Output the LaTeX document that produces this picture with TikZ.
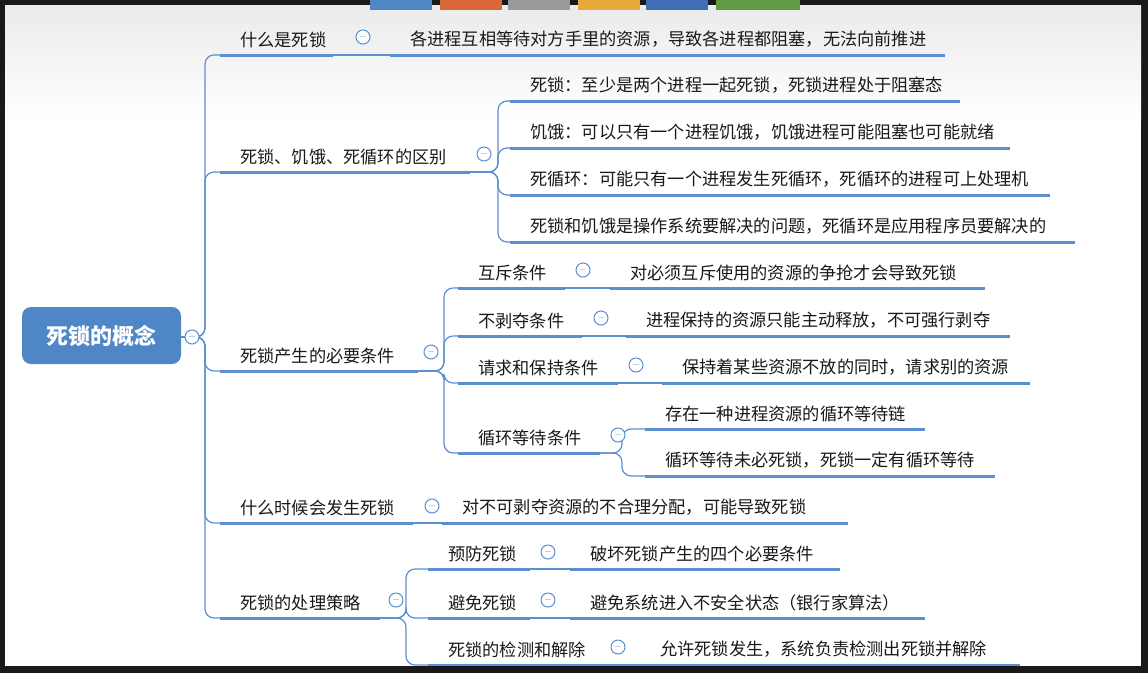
\documentclass[tikz,border=0pt]{standalone}
\usepackage{fontspec}
\newfontfamily\cjk{Noto Sans CJK SC}
\definecolor{bl}{HTML}{5B8FD0}
\definecolor{rootc}{HTML}{4F86C6}
\definecolor{tabA}{HTML}{4F86C6}
\definecolor{tabB}{HTML}{D9673A}
\definecolor{tabC}{HTML}{9A9A9A}
\definecolor{tabD}{HTML}{E9A93A}
\definecolor{tabE}{HTML}{3F6FB5}
\definecolor{tabF}{HTML}{5E9B43}
\tikzset{
 lbl/.style={anchor=south west,inner sep=0pt,font=\cjk\fontsize{17.2}{19}\selectfont,text=black!90},
 ul/.style={draw=bl,line width=3pt},
 con/.style={draw=bl,line width=1.2pt,rounded corners=9pt},
 tog/.style={circle,draw=bl,line width=1pt,minimum size=14pt,inner sep=0pt,fill=white,font=\fontsize{10}{10}\selectfont\bfseries,text=bl},
}
\newcommand\itm[5]{%
 \coordinate (#1-s) at (#2,#4); \coordinate (#1-e) at (#3,#4);
 \draw[ul] (#1-s) -- (#1-e);
 \node[lbl] (#1) at (#2+20,#4-7) {#5};}
\newcommand\tg[3]{\node[tog] (#1) at (#2,#3) {$-$};}
\newcommand\br[3]{\draw[con] (#1) -- ++(#3,0) |- (#2);}
\begin{document}
\begin{tikzpicture}[x=1pt,y=-1pt]
\fill[black!90] (0,0) rectangle (1148,673);
\shade[top color=black!8,bottom color=white] (5,5) rectangle (1141,120);
\fill[white] (5,120) rectangle (1141,666);
\foreach \a/\b/\c in {370/432/tabA,440/502/tabB,508/570/tabC,578/640/tabD,646/708/tabE,716/800/tabF}
 \fill[\c] (\a,0) rectangle (\b,10);
\node[fill=rootc,rounded corners=9pt,minimum width=159pt,minimum height=57pt,text=white,font=\cjk\fontsize{22}{24}\selectfont\bfseries] (root) at (101.5,335.5) {死锁的概念};
\coordinate (root-e) at (181,337);
% level 1
\itm{a}{220}{333}{55}{什么是死锁}
\itm{b}{220}{470}{172}{死锁、饥饿、死循环的区别}
\itm{c}{220}{418}{371}{死锁产生的必要条件}
\itm{d}{220}{413}{523}{什么时候会发生死锁}
\itm{e}{220}{380}{618}{死锁的处理策略}
\foreach \n in {a,b,c,d,e} \draw[con] (root-e) -- ++(24,0) |- (\n-s);
% a
\itm{a1}{390}{945}{55}{各进程互相等待对方手里的资源，导致各进程都阻塞，无法向前推进}
\draw[con] (a-e) -- (a1-s);
% b
\itm{b1}{510}{960}{101}{死锁：至少是两个进程一起死锁，死锁进程处于阻塞态}
\itm{b2}{510}{1010}{148}{饥饿：可以只有一个进程饥饿，饥饿进程可能阻塞也可能就绪}
\itm{b3}{510}{1050}{195}{死循环：可能只有一个进程发生死循环，死循环的进程可上处理机}
\itm{b4}{510}{1075}{242}{死锁和饥饿是操作系统要解决的问题，死循环是应用程序员要解决的}
\foreach \n in {b1,b2,b3,b4} \br{b-e}{\n-s}{28};
% c
\itm{c1}{458}{565}{288}{互斥条件}
\itm{c2}{458}{582}{336}{不剥夺条件}
\itm{c3}{458}{618}{383}{请求和保持条件}
\itm{c4}{458}{600}{453}{循环等待条件}
\foreach \n in {c1,c2,c3,c4} \br{c-e}{\n-s}{26};
\itm{c1a}{610}{985}{288}{对必须互斥使用的资源的争抢才会导致死锁}
\itm{c2a}{626}{1010}{336}{进程保持的资源只能主动释放，不可强行剥夺}
\itm{c3a}{662}{1030}{383}{保持着某些资源不放的同时，请求别的资源}
\draw[con] (c1-e)--(c1a-s); \draw[con] (c2-e)--(c2a-s); \draw[con] (c3-e)--(c3a-s);
\itm{c4a}{645}{925}{429}{存在一种进程资源的循环等待链}
\itm{c4b}{645}{995}{476}{循环等待未必死锁，死锁一定有循环等待}
\foreach \n in {c4a,c4b} \br{c4-e}{\n-s}{22};
% d
\itm{d1}{442}{848}{523}{对不可剥夺资源的不合理分配，可能导致死锁}
\draw[con] (d-e) -- (d1-s);
% e
\itm{e1}{428}{530}{569}{预防死锁}
\itm{e2}{428}{530}{618}{避免死锁}
\itm{e3}{428}{600}{665}{死锁的检测和解除}
\foreach \n in {e1,e2,e3} \br{e-e}{\n-s}{26};
\itm{e1a}{570}{840}{569}{破坏死锁产生的四个必要条件}
\itm{e2a}{570}{925}{618}{避免系统进入不安全状态（银行家算法）}
\itm{e3a}{640}{1020}{665}{允许死锁发生，系统负责检测出死锁并解除}
\draw[con] (e1-e)--(e1a-s); \draw[con] (e2-e)--(e2a-s); \draw[con] (e3-e)--(e3a-s);
% toggles
\tg{t0}{192}{337}\tg{ta}{363}{37}\tg{tb}{484}{154}\tg{tc}{431}{352}
\tg{tc1}{583}{270}\tg{tc2}{601}{318}\tg{tc3}{636}{365}\tg{tc4}{618}{435}
\tg{td}{432}{506}\tg{te}{396}{600}\tg{te1}{548}{552}\tg{te2}{548}{600}\tg{te3}{618}{647}
\fill[black!90] (0,666) rectangle (1148,673);
\end{tikzpicture}
\end{document}
